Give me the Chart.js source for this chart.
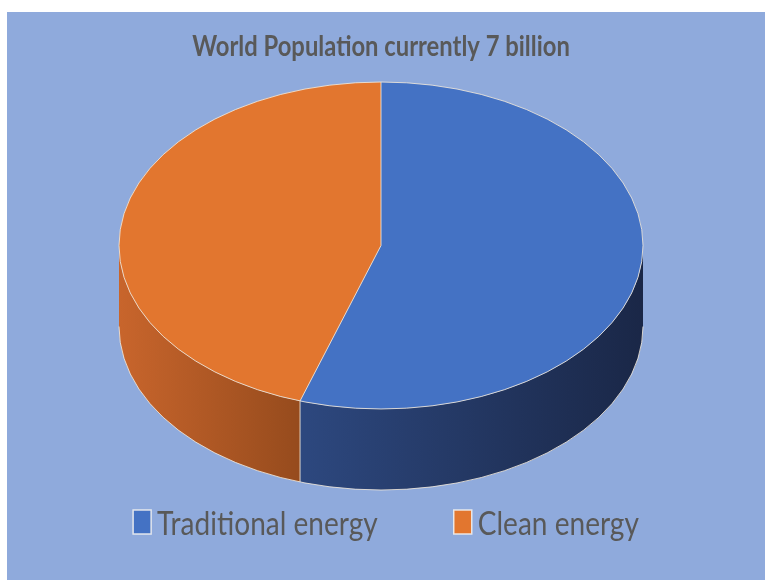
<!DOCTYPE html>
<html><head><meta charset="utf-8">
<script src="https://cdn.jsdelivr.net/npm/chart.js@4.4.1/dist/chart.umd.min.js"></script>
<style>
html,body{margin:0;padding:0;background:#fff;}
#wrap{position:absolute;left:7px;top:12px;width:758px;height:568px;background:#8FAADC;}
canvas{display:block;}
</style></head><body>
<div id="wrap"><canvas id="c" width="758" height="568"></canvas></div>
<script>
const categories = ['Traditional energy', 'Clean energy'];
const shares = [55, 45];
const chartTitle = 'World Population currently 7 billion';
const topColors = ['#4472C4', '#E2762F'];
const sideColors = [['#2D487F', '#1A2747'], ['#C8652C', '#964B1D']];

const FONT = 'Lato, "Liberation Sans", sans-serif';
const CONDENSE = 0.85;   // narrow look of the original typeface
const TILT = 0.624;      // ry / rx
const EDGE = 'rgba(240,232,218,0.85)';
const TEXT_COLOR = '#595959';

function geom(chart) {
  const a = chart.chartArea;
  const rx = (a.right - a.left) / 2;
  const ry = rx * TILT;
  const depth = (a.bottom - a.top) - 2 * ry;
  return { cx: (a.left + a.right) / 2, cy: a.top + ry, rx, ry, depth };
}

function condensedText(ctx, text, x, y) {
  ctx.save();
  ctx.translate(x, y);
  ctx.scale(CONDENSE, 1);
  ctx.fillText(text, 0, 0);
  ctx.restore();
}

const pie3d = {
  id: 'pie3d',
  beforeDatasetsDraw(chart) {
    const ctx = chart.ctx;
    const g = geom(chart);
    const arcs = chart.getDatasetMeta(0).data;
    arcs.forEach((arc, i) => {
      const s = Math.max(arc.startAngle, 0), e = Math.min(arc.endAngle, Math.PI);
      if (s >= e) return;
      const xl = g.cx + g.rx * Math.cos(e), xr = g.cx + g.rx * Math.cos(s);
      const grad = ctx.createLinearGradient(xl, 0, xr, 0);
      grad.addColorStop(0, sideColors[i][0]);
      grad.addColorStop(1, sideColors[i][1]);
      ctx.save();
      ctx.beginPath();
      ctx.ellipse(g.cx, g.cy, g.rx, g.ry, 0, s, e, false);
      ctx.lineTo(g.cx + g.rx * Math.cos(e), g.cy + g.depth + g.ry * Math.sin(e));
      ctx.ellipse(g.cx, g.cy + g.depth, g.rx, g.ry, 0, e, s, true);
      ctx.closePath();
      ctx.fillStyle = grad;
      ctx.fill();
      ctx.restore();
    });
    const a0 = arcs[0];
    const r = a0.outerRadius;
    ctx.save();
    ctx.translate(g.cx, g.cy);
    ctx.scale(g.rx / r, g.ry / r);
    ctx.translate(-a0.x, -a0.y);
  },
  afterDatasetsDraw(chart) {
    const ctx = chart.ctx;
    ctx.restore();
    const g = geom(chart);
    const arcs = chart.getDatasetMeta(0).data;
    ctx.save();
    ctx.strokeStyle = EDGE;
    ctx.lineWidth = 1;
    ctx.beginPath();
    ctx.ellipse(g.cx, g.cy, g.rx, g.ry, 0, 0, Math.PI * 2);
    ctx.stroke();
    ctx.beginPath();
    ctx.ellipse(g.cx, g.cy + g.depth, g.rx, g.ry, 0, 0, Math.PI, false);
    ctx.stroke();
    arcs.forEach(arc => {
      const t = arc.startAngle;
      const px = g.cx + g.rx * Math.cos(t), py = g.cy + g.ry * Math.sin(t);
      ctx.beginPath();
      ctx.moveTo(g.cx, g.cy);
      ctx.lineTo(px, py);
      ctx.stroke();
      const tn = ((t % (2 * Math.PI)) + 2 * Math.PI) % (2 * Math.PI);
      if (tn > 0 && tn < Math.PI) {
        ctx.beginPath();
        ctx.moveTo(px, py);
        ctx.lineTo(px, py + g.depth);
        ctx.stroke();
      }
    });
    ctx.restore();
  },
  afterDraw(chart) {
    const ctx = chart.ctx;
    const a = chart.chartArea;
    const g = geom(chart);
    const ds = chart.data.datasets[0];
    ctx.save();
    // title
    ctx.fillStyle = TEXT_COLOR;
    ctx.textBaseline = 'alphabetic';
    ctx.textAlign = 'center';
    ctx.font = 'bold 28px ' + FONT;
    condensedText(ctx, chartTitle, g.cx, a.top - 26);
    // legend
    const boxW = 18, boxH = 24, gap = 6, itemGap = 76;
    ctx.textAlign = 'left';
    ctx.font = '33px ' + FONT;
    const widths = chart.data.labels.map(l => ctx.measureText(l).width * CONDENSE);
    const total = widths.reduce((s, w) => s + boxW + gap + w, 0) + itemGap * (widths.length - 1);
    let x = chart.width / 2 - total / 2;
    const boxTop = a.bottom + 20;
    chart.data.labels.forEach((label, i) => {
      ctx.fillStyle = ds.backgroundColor[i];
      ctx.fillRect(x, boxTop, boxW, boxH);
      ctx.strokeStyle = 'rgba(240,240,240,0.9)';
      ctx.lineWidth = 1.5;
      ctx.strokeRect(x, boxTop, boxW, boxH);
      ctx.fillStyle = TEXT_COLOR;
      condensedText(ctx, label, x + boxW + gap, boxTop + boxH + 0.5);
      x += boxW + gap + widths[i] + itemGap;
    });
    ctx.restore();
  }
};

new Chart(document.getElementById('c'), {
  type: 'pie',
  data: {
    labels: categories,
    datasets: [{
      data: shares,
      backgroundColor: topColors,
      borderWidth: 0,
      clip: false
    }]
  },
  options: {
    responsive: false,
    animation: false,
    events: [],
    layout: { padding: { left: 112, right: 122, top: 70, bottom: 90 } },
    plugins: {
      legend: { display: false },
      tooltip: { enabled: false },
      title: { display: false, text: chartTitle }
    }
  },
  plugins: [pie3d]
});
</script>
</body></html>
